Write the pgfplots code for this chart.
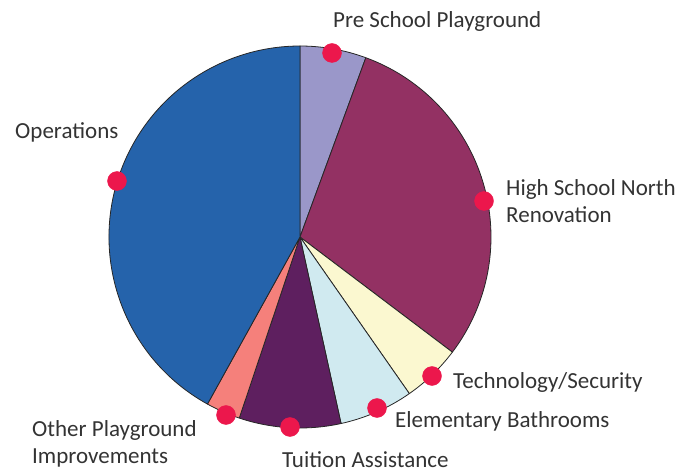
\documentclass[border=0pt]{standalone}
\usepackage{pgfplots}
\pgfplotsset{compat=1.18}
\usepackage{pgfplotstable}
\usepackage{fontspec}
\setmainfont{Carlito}
\definecolor{cPre}{HTML}{9A97C9}
\definecolor{cHS}{HTML}{933163}
\definecolor{cTech}{HTML}{FBF8D0}
\definecolor{cElem}{HTML}{D0EAF0}
\definecolor{cTui}{HTML}{5E1F5F}
\definecolor{cOther}{HTML}{F5807B}
\definecolor{cOps}{HTML}{2563AB}
\definecolor{dotred}{HTML}{EC174C}
\definecolor{txt}{HTML}{333333}
\tikzset{lab/.style={font=\fontsize{23}{27}\selectfont, text=txt, inner sep=0pt, anchor=base west}}

\pgfplotstableread{
value color
5.6   cPre
29.7  cHS
5.0   cTech
6.25  cElem
8.6   cTui
2.9   cOther
41.95 cOps
}\piedata

\begin{document}
\begin{tikzpicture}
\useasboundingbox (0,0) rectangle (683pt,472pt);
\begin{axis}[
  hide axis, x=1pt, y=1pt,
  xmin=0, xmax=683, ymin=0, ymax=472,
  clip=false,
]
\def\curang{90}
\pgfplotsforeachungrouped \i in {0,...,6}{
  \pgfplotstablegetelem{\i}{value}\of\piedata \let\v\pgfplotsretval
  \pgfplotstablegetelem{\i}{color}\of\piedata \let\c\pgfplotsretval
  \pgfmathsetmacro\endang{\curang-3.6*\v}
  \edef\temp{\noexpand\fill[fill=\c, draw=black!85, line width=0.8pt, line join=round] (axis cs:300,235) -- ++(\curang:191pt) arc[start angle=\curang, end angle=\endang, radius=191pt] -- cycle;}
  \temp
  \global\let\curang\endang
}
\addplot[only marks, mark=*, mark size=9.5pt, color=dotred] coordinates {
  (332,419) (484,271) (432,96) (377,64) (290,45) (226,57) (117,291)
};
\node[lab] at (axis cs:333,444) {Pre School Playground};
\node[lab] at (axis cs:15,333) {Operations};
\node[lab] at (axis cs:506,276) {High School North};
\node[lab] at (axis cs:506,249) {Renovation};
\node[lab] at (axis cs:453,84) {Technology/Security};
\node[lab] at (axis cs:395,45) {Elementary Bathrooms};
\node[lab] at (axis cs:282,5) {Tuition Assistance};
\node[lab] at (axis cs:32,36) {Other Playground};
\node[lab] at (axis cs:32,9) {Improvements};
\end{axis}
\end{tikzpicture}
\end{document}
